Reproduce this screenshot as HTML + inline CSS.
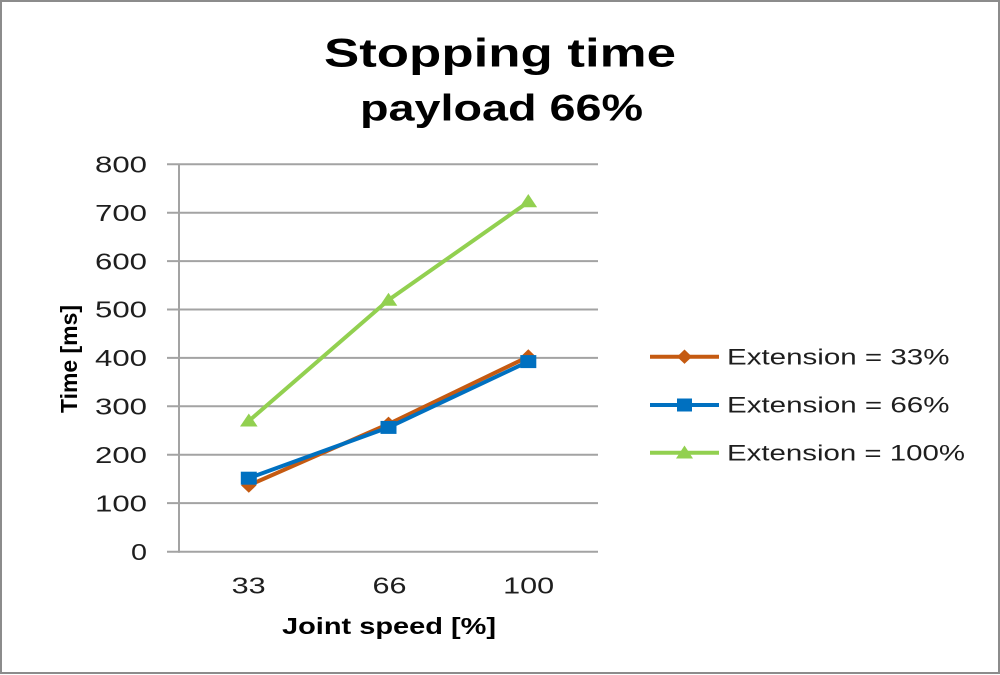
<!DOCTYPE html>
<html>
<head>
<meta charset="utf-8">
<style>
  html,body{margin:0;padding:0;background:#fff;}
  svg{display:block;}
  text{font-family:"Liberation Sans", Arial, sans-serif;}
</style>
</head>
<body>
<svg width="1000" height="675" viewBox="0 0 1000 675" xmlns="http://www.w3.org/2000/svg">
  <rect x="0" y="0" width="1000" height="675" fill="#fff"/>
  <rect x="1" y="1" width="998" height="672" fill="none" stroke="#8c8c8c" stroke-width="2"/>

  <!-- Title -->
  <text x="500" y="66.7" text-anchor="middle" font-size="40" font-weight="bold" fill="#000" textLength="352" lengthAdjust="spacingAndGlyphs">Stopping time</text>
  <text x="501.5" y="120.7" text-anchor="middle" font-size="37" font-weight="bold" fill="#000" textLength="283" lengthAdjust="spacingAndGlyphs">payload 66%</text>

  <!-- Gridlines -->
  <g stroke="#a3a3a3" stroke-width="2">
    <line x1="167" y1="164.3" x2="598" y2="164.3"/>
    <line x1="167" y1="212.7" x2="598" y2="212.7"/>
    <line x1="167" y1="261.1" x2="598" y2="261.1"/>
    <line x1="167" y1="309.5" x2="598" y2="309.5"/>
    <line x1="167" y1="357.9" x2="598" y2="357.9"/>
    <line x1="167" y1="406.3" x2="598" y2="406.3"/>
    <line x1="167" y1="454.7" x2="598" y2="454.7"/>
    <line x1="167" y1="503.1" x2="598" y2="503.1"/>
    <line x1="167" y1="551.7" x2="598" y2="551.7"/>
    <line x1="179" y1="164.3" x2="179" y2="552.7"/>
  </g>

  <!-- Y tick labels -->
  <g font-size="23" fill="#1e1e1e" text-anchor="end">
    <text x="147" y="172.5" textLength="52" lengthAdjust="spacingAndGlyphs">800</text>
    <text x="147" y="220.9" textLength="52" lengthAdjust="spacingAndGlyphs">700</text>
    <text x="147" y="269.3" textLength="52" lengthAdjust="spacingAndGlyphs">600</text>
    <text x="147" y="317.7" textLength="52" lengthAdjust="spacingAndGlyphs">500</text>
    <text x="147" y="366.1" textLength="52" lengthAdjust="spacingAndGlyphs">400</text>
    <text x="147" y="414.5" textLength="52" lengthAdjust="spacingAndGlyphs">300</text>
    <text x="147" y="462.9" textLength="52" lengthAdjust="spacingAndGlyphs">200</text>
    <text x="147" y="511.3" textLength="52" lengthAdjust="spacingAndGlyphs">100</text>
    <text x="147" y="559.9" textLength="16" lengthAdjust="spacingAndGlyphs">0</text>
  </g>

  <!-- X tick labels -->
  <g font-size="23" fill="#1e1e1e" text-anchor="middle">
    <text x="248.7" y="593.3" textLength="34" lengthAdjust="spacingAndGlyphs">33</text>
    <text x="389.5" y="593.3" textLength="34" lengthAdjust="spacingAndGlyphs">66</text>
    <text x="528.7" y="593.3" textLength="51" lengthAdjust="spacingAndGlyphs">100</text>
  </g>

  <!-- Axis titles -->
  <text x="389" y="634" text-anchor="middle" font-size="23" font-weight="bold" fill="#000" textLength="214" lengthAdjust="spacingAndGlyphs">Joint speed [%]</text>
  <text transform="translate(77,359) rotate(-90)" x="0" y="0" text-anchor="middle" font-size="23" font-weight="bold" fill="#000" textLength="108" lengthAdjust="spacingAndGlyphs">Time [ms]</text>

  <!-- Series: Extension = 33% (orange) -->
  <polyline points="248.8,485.4 388.5,424 528.3,356.7" fill="none" stroke="#c55a11" stroke-width="4" stroke-linejoin="round"/>
  <g fill="#c55a11">
    <polygon points="248.8,478 256.5,485.4 248.8,492.8 241.1,485.4"/>
    <polygon points="388.5,416.6 396.2,424 388.5,431.4 380.8,424"/>
    <polygon points="528.3,349.3 536,356.7 528.3,364.1 520.6,356.7"/>
  </g>

  <!-- Series: Extension = 66% (blue) -->
  <polyline points="248.8,478.2 388.5,427.4 528.3,361.6" fill="none" stroke="#0070c0" stroke-width="4" stroke-linejoin="round"/>
  <g fill="#0070c0">
    <rect x="240.8" y="471.7" width="16" height="13"/>
    <rect x="380.5" y="420.9" width="16" height="13"/>
    <rect x="520.3" y="355.1" width="16" height="13"/>
  </g>

  <!-- Series: Extension = 100% (green) -->
  <polyline points="248.8,421 388.5,300 528.3,202" fill="none" stroke="#92d050" stroke-width="4" stroke-linejoin="round"/>
  <g fill="#92d050">
    <polygon points="248.8,413.5 257.6,426.5 240,426.5"/>
    <polygon points="388.5,292.8 397.3,305.8 379.7,305.8"/>
    <polygon points="528.3,194 537.1,207.3 519.5,207.3"/>
  </g>

  <!-- Legend -->
  <line x1="650" y1="356.7" x2="719" y2="356.7" stroke="#c55a11" stroke-width="4"/>
  <polygon points="684.5,349.5 692,356.7 684.5,363.9 677,356.7" fill="#c55a11"/>
  <line x1="650" y1="405" x2="719" y2="405" stroke="#0070c0" stroke-width="4"/>
  <rect x="677" y="398.5" width="15" height="13" fill="#0070c0"/>
  <line x1="650" y1="452.7" x2="719" y2="452.7" stroke="#92d050" stroke-width="4"/>
  <polygon points="684.5,445.5 693,458.5 676,458.5" fill="#92d050"/>

  <g font-size="22.5" fill="#1e1e1e">
    <text x="727" y="364.3" textLength="222.5" lengthAdjust="spacingAndGlyphs">Extension = 33%</text>
    <text x="727" y="412.6" textLength="222.5" lengthAdjust="spacingAndGlyphs">Extension = 66%</text>
    <text x="727" y="460.5" textLength="238" lengthAdjust="spacingAndGlyphs">Extension = 100%</text>
  </g>
</svg>
</body>
</html>
